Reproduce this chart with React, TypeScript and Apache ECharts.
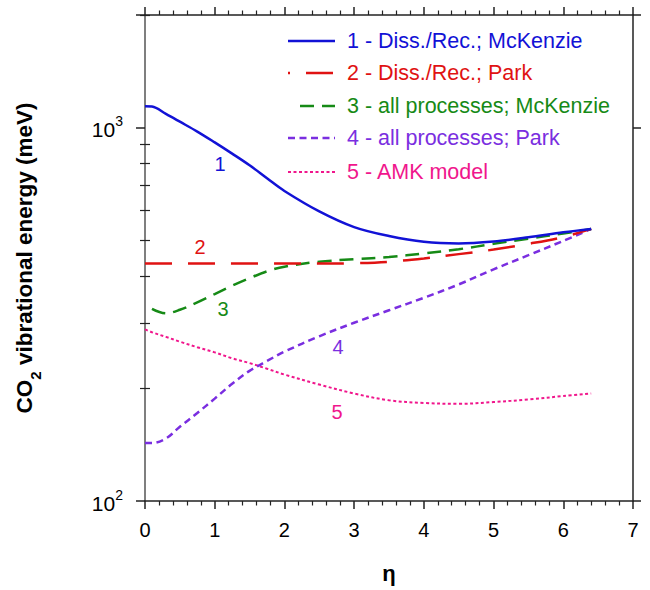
import React, { useEffect, useRef } from 'react';
import * as echarts from 'echarts';

// η grid and curve values (meV)
const eta = [0, 0.1, 0.3, 0.5, 0.75, 1.0, 1.25, 1.5, 1.75, 2.0, 2.5, 3.0, 3.5, 4.0, 4.5, 5.0, 5.5, 6.0, 6.4];
const dissMcKenzie = [1140, 1138, 1087, 1036, 975, 912, 851, 792, 731, 676, 596, 541, 512, 494, 489, 495, 508, 524, 535];
const dissPark = [432, 432, 432, 432, 432, 432, 432, 432, 432, 432, 432, 433, 437, 446, 458, 471, 488, 509, 535];
const allMcKenzie = [null, 327, 318, 325, 340, 358, 377, 395, 412, 424, 437, 444, 450, 460, 472, 488, 504, 520, 535];
const allPark = [143, 143, 147, 158, 172, 188, 206, 223, 237, 251, 276, 300, 324, 350, 380, 417, 455, 497, 535];
const amk = [288, 283, 275, 267, 258, 250, 241, 234, 226, 218, 205, 194, 186, 183, 182, 184, 187, 191, 194];

const seriesNames = [
  '1 - Diss./Rec.; McKenzie',
  '2 - Diss./Rec.; Park',
  '3 - all processes; McKenzie',
  '4 - all processes; Park',
  '5 - AMK model',
];
const curveLabels = ['1', '2', '3', '4', '5'];
const colors = ['#1212d6', '#e01212', '#168a16', '#7a2ee0', '#f0168c'];
const xTickMax = 7;
const yMin = 100;
const yMax = 2000;
const yMinorTicks = [200, 300, 400, 500, 600, 700, 800, 900, 2000];

const FONT = 'Liberation Sans, Arial, Helvetica, sans-serif';

export default function App() {
  const ref = useRef<HTMLDivElement>(null);
  useEffect(() => {
    document.body.style.margin = '0';
    const chart = echarts.init(ref.current!, null, { renderer: 'svg' });
    const values = [dissMcKenzie, dissPark, allMcKenzie, allPark, amk];
    const dashes: any[] = ['solid', [27, 16], [14, 8], [7, 4.5], [3, 2.5]];
    const widths = [2.5, 2.5, 2.5, 2.5, 2];
    const axisColor = '#222';
    const lineStyle = { color: axisColor, width: 1.5 };

    const series = values.map((vals, i) => ({
      name: seriesNames[i],
      type: 'line',
      xAxisIndex: 0,
      yAxisIndex: 0,
      smooth: 0.35,
      symbol: 'none',
      data: eta.map((x, k) => [x, vals[k]]).filter((p) => p[1] != null),
      lineStyle: { color: colors[i], width: widths[i], type: dashes[i] },
      itemStyle: { color: colors[i] },
      z: 10 - i,
    }));

    const legendRowsY = [41, 73, 106, 138, 172];
    const legendX0 = 288;
    const legendX1 = 335;
    const legendGraphics: any[] = [];
    seriesNames.forEach((name, i) => {
      const lineDashOffset = i === 1 ? 25 : i === 2 ? 14 : 0;
      const x0 = i === 2 ? 292 : legendX0;
      legendGraphics.push({
        type: 'line',
        shape: { x1: x0, y1: legendRowsY[i], x2: legendX1, y2: legendRowsY[i] },
        style: {
          stroke: colors[i],
          lineWidth: widths[i],
          lineDash: dashes[i] === 'solid' ? null : dashes[i],
          lineDashOffset,
        },
      });
      legendGraphics.push({
        type: 'text',
        x: 347,
        y: legendRowsY[i],
        style: {
          text: name,
          fill: colors[i],
          font: `21.5px ${FONT}`,
          textVerticalAlign: 'middle',
          textAlign: 'left',
        },
      });
    });

    const labelPos = [
      [220, 164],
      [200, 247],
      [223, 309],
      [338, 347],
      [337, 412],
    ];
    const curveLabelGraphics = curveLabels.map((t, i) => ({
      type: 'text',
      x: labelPos[i][0],
      y: labelPos[i][1],
      style: {
        text: t,
        fill: colors[i],
        font: `20px ${FONT}`,
        textAlign: 'center',
        textVerticalAlign: 'middle',
      },
    }));

    const logFormatter = (v: number) => {
      const l = Math.log10(v);
      const r = Math.round(l);
      if (Math.abs(l - r) < 1e-6) return `{b|10}{s|${r}}`;
      return '';
    };

    const xAxisCommon = {
      type: 'value',
      min: 0,
      max: xTickMax,
      interval: 1,
      axisLine: { show: true, onZero: false, lineStyle },
      axisTick: { show: true, length: 8, lineStyle },
      minorTick: { show: true, splitNumber: 5, length: 4.5, lineStyle: { color: axisColor, width: 1.2 } },
      splitLine: { show: false },
      minorSplitLine: { show: false },
    };

    const minorAxis = (position: string) => ({
      type: 'value',
      position,
      min: Math.log10(yMin),
      max: Math.log10(yMax),
      axisLine: { show: false },
      axisLabel: { show: false },
      splitLine: { show: false },
      axisTick: {
        show: true,
        length: 5,
        customValues: yMinorTicks.map((v) => Math.log10(v)),
        lineStyle: { color: axisColor, width: 1.2 },
      },
    });

    chart.setOption({
      animation: false,
      backgroundColor: '#fff',
      grid: { left: 145, right: 17, top: 15, bottom: 89, containLabel: false },
      xAxis: [
        {
          ...xAxisCommon,
          position: 'bottom',
          axisLabel: { fontSize: 20, margin: 19, color: '#000', fontFamily: FONT },
          name: 'η',
          nameLocation: 'middle',
          nameGap: 61,
          nameTextStyle: { fontSize: 22, fontWeight: 'bold', color: '#000', fontFamily: FONT },
        },
        {
          ...xAxisCommon,
          position: 'top',
          axisLabel: { show: false },
        },
      ],
      yAxis: [
        {
          type: 'log',
          logBase: 10,
          min: yMin,
          max: yMax,
          position: 'left',
          axisLine: { show: true, onZero: false, lineStyle: { color: '#555', width: 1.5 } },
          axisTick: { show: true, length: 9, lineStyle },
          minorTick: { show: false },
          splitLine: { show: false },
          axisLabel: {
            formatter: logFormatter,
            margin: 22,
            color: '#000',
            rich: {
              b: { fontSize: 21, fontFamily: FONT, color: '#000', lineHeight: 26, verticalAlign: 'bottom' },
              s: { fontSize: 14, fontFamily: FONT, color: '#000', lineHeight: 14, verticalAlign: 'top' },
            },
          },
          name: '{b|CO}{s|2}{b| vibrational energy (meV)}',
          nameLocation: 'middle',
          nameGap: 102,
          nameTextStyle: {
            color: '#000',
            rich: {
              b: { fontSize: 22.5, fontWeight: 'bold', fontFamily: FONT, color: '#000', lineHeight: 30, verticalAlign: 'top' },
              s: { fontSize: 15, fontWeight: 'bold', fontFamily: FONT, color: '#000', lineHeight: 14, verticalAlign: 'bottom' },
            },
          },
        },
        {
          type: 'log',
          logBase: 10,
          min: yMin,
          max: yMax,
          position: 'right',
          axisLine: { show: true, onZero: false, lineStyle },
          axisTick: { show: true, length: 8, lineStyle },
          minorTick: { show: false },
          splitLine: { show: false },
          axisLabel: { show: false },
        },
        minorAxis('left'),
        minorAxis('right'),
      ],
      graphic: [...legendGraphics, ...curveLabelGraphics],
      series,
    });
    return () => chart.dispose();
  }, []);
  return <div ref={ref} style={{ width: 650, height: 590 }} />;
}
